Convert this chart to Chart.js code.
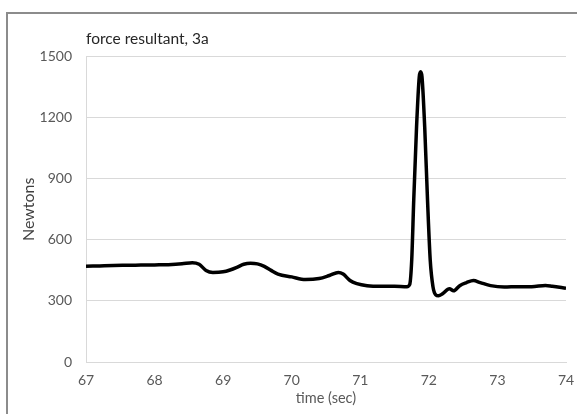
<!DOCTYPE html>
<html>
<head>
<meta charset="utf-8">
<script src="https://cdn.jsdelivr.net/npm/chart.js@4"></script>
<style>
  html, body { margin: 0; padding: 0; background: #fff; overflow: hidden; }
  .frame { position: absolute; left: 6px; top: 12px; width: 620px; height: 460px; border: 2px solid #8c8c8c; }
  .wrap { position: absolute; left: 0; top: 0; width: 577px; height: 414px; }
</style>
</head>
<body>
<div class="frame"></div>
<div class="wrap"><canvas id="chart" width="577" height="414"></canvas></div>
<script>
const times = [67.0, 67.2, 67.4, 67.6, 67.8, 68.0, 68.2, 68.4, 68.55, 68.65, 68.75, 68.85, 69.0, 69.1, 69.2, 69.3, 69.4, 69.5, 69.6, 69.7, 69.8, 70.0, 70.2, 70.4, 70.55, 70.68, 70.75, 70.85, 70.95, 71.1, 71.3, 71.5, 71.68, 71.72, 71.75, 71.78, 71.82, 71.86, 71.88, 71.9, 71.94, 71.98, 72.02, 72.06, 72.1, 72.14, 72.2, 72.3, 72.36, 72.45, 72.55, 72.65, 72.75, 72.9, 73.1, 73.3, 73.5, 73.7, 73.8, 74.0];
const force = [470, 472, 474, 475, 476, 477, 478, 482, 488, 480, 450, 440, 443, 452, 465, 480, 485, 482, 470, 450, 432, 418, 405, 410, 425, 440, 432, 400, 385, 375, 372, 372, 370, 380, 500, 800, 1150, 1400, 1425, 1400, 1150, 800, 500, 370, 330, 325, 335, 360, 350, 375, 390, 400, 390, 375, 368, 370, 370, 376, 372, 362];
const xTicks = [67, 68, 69, 70, 71, 72, 73, 74];
const yTicks = [0, 300, 600, 900, 1200, 1500];

const points = times.map((t, i) => ({ x: t, y: force[i] }));
const font = "Lato, 'Open Sans', sans-serif";

new Chart(document.getElementById("chart"), {
  type: "line",
  data: {
    datasets: [{
      data: points,
      borderColor: "#000",
      borderWidth: 3.5,
      pointRadius: 0,
      cubicInterpolationMode: "monotone",
      fill: false
    }]
  },
  options: {
    responsive: false,
    animation: false,
    layout: { padding: { left: 8, right: 11, top: 0, bottom: 0 } },
    plugins: {
      legend: { display: false },
      tooltip: { enabled: false },
      title: {
        display: true,
        text: "force resultant, 3a",
        align: "start",
        fullSize: false,
        color: "#262626",
        font: { family: font, size: 15.5, weight: "normal" },
        padding: { top: 30, bottom: 8 }
      }
    },
    scales: {
      x: {
        type: "linear",
        min: xTicks[0],
        max: xTicks[xTicks.length - 1],
        afterBuildTicks: (s) => { s.ticks = xTicks.map(v => ({ value: v })); },
        afterFit: (s) => { s.height = 52; s.paddingLeft = 0; s.paddingRight = 0; },
        grid: { display: false, drawTicks: false },
        border: { display: true, color: "#d9d9d9", width: 1 },
        ticks: { color: "#595959", font: { family: font, size: 14 }, padding: 10, callback: (v) => String(v) },
        title: { display: true, text: "time (sec)", color: "#595959", font: { family: font, size: 14.5 }, padding: { top: 2, bottom: 7 } }
      },
      y: {
        min: yTicks[0],
        max: yTicks[yTicks.length - 1],
        afterBuildTicks: (s) => { s.ticks = yTicks.map(v => ({ value: v })); },
        afterFit: (s) => { s.width = 78; s.paddingTop = 0; s.paddingBottom = 0; },
        grid: { color: "#d9d9d9", drawTicks: false },
        border: { display: true, color: "#d9d9d9", width: 1 },
        ticks: { color: "#595959", font: { family: font, size: 14 }, padding: 14, callback: (v) => String(v) },
        title: { display: true, text: "Newtons", color: "#404040", font: { family: font, size: 16 }, padding: { top: 11, bottom: 0 } }
      }
    }
  }
});
</script>
</body>
</html>
